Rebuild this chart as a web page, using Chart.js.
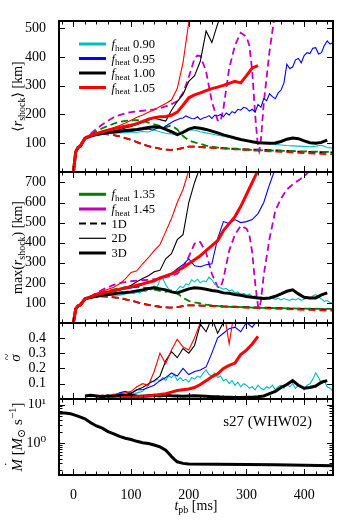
<!DOCTYPE html>
<html>
<head>
<meta charset="utf-8">
<script src="https://cdn.jsdelivr.net/npm/chart.js@4.4.1/dist/chart.umd.min.js"></script>
<style>
  body { margin: 0; background: #fff; }
  #wrap { position: relative; width: 339px; height: 529px; }
  canvas { position: absolute; left: 0; }
</style>
</head>
<body>
<div id="wrap">
  <canvas id="c1" width="339" height="172" style="top:0px"></canvas>
  <canvas id="c2" width="339" height="151" style="top:172px"></canvas>
  <canvas id="c3" width="339" height="76" style="top:323px"></canvas>
  <canvas id="c4" width="339" height="130" style="top:399px"></canvas>
</div>
<script>
// time grid (ms after bounce) shared by most shock-radius curves
const tA = [0, 4, 8, 12, 20, 30, 40, 50, 60, 70, 80, 90, 100, 110, 120, 130, 140, 150, 160, 170, 180, 190, 200, 210,
  220, 230, 240, 250, 260, 270, 280, 290, 300, 310, 320, 330, 340, 350, 360, 370, 380, 390, 400, 410, 420, 430, 440, 450];
// finer grid for the noisiest 2D curves
const tEarly = [0, 4, 8, 12, 20, 30, 40, 50, 60, 70, 80, 90];
const tFine = [100, 105, 110, 115, 120, 125, 130, 135, 140, 145, 150, 155, 160, 165, 170, 175, 180, 185, 190, 195,
  200, 205, 210, 215, 220, 225, 230, 235, 240, 245, 250, 255, 260, 265, 270, 275, 280, 285, 290, 295,
  300, 305, 310, 315, 320, 325, 330, 335, 340, 345, 350, 355, 360, 365, 370, 375, 380, 385, 390, 395,
  400, 405, 410, 415, 420, 425, 430, 435, 440, 445, 450];

// 1D runs (same in mean and max panels)
const black1D = [0, 70, 85, 90, 118, 127, 131, 133, 131, 128, 124, 118, 112, 104, 96, 90, 85, 81, 78, 77, 79, 84, 88, 88,
  87, 86, 85, 84, 83, 82, 81, 80, 79, 78, 78, 77, 76, 75, 74, 73, 72, 71, 70, 70, 69, 69, 68, 68];
const red1D = [0, 70, 85, 90, 118, 127, 131, 133, 131, 128, 124, 118, 112, 104, 96, 90, 85, 81, 78, 77, 79, 84, 88, 88,
  87, 85, 84, 83, 81, 80, 79, 78, 76, 75, 74, 73, 72, 71, 70, 69, 68, 67, 66, 65, 64, 63, 62, 62];
const green1D = [0, 70, 85, 90, 118, 130, 142, 152, 160, 168, 174, 178, 180, 180, 178, 172, 166, 160, 155, 162, 148, 125, 110, 103,
  98, 92, 88, 85, 83, 81, 80, 79, 78, 77, 76, 75, 75, 74, 74, 73, 73, 72, 72, 71, 71, 70, 70, 70];
const tMag = [0, 4, 8, 12, 20, 30, 40, 50, 60, 70, 80, 90, 100, 110, 120, 130, 140, 150, 160, 170, 180, 190, 200, 210, 215,
  220, 230, 240, 250, 255, 260, 270, 280, 290, 300, 305, 310, 315, 320, 322, 325, 330, 340, 350, 360, 370, 380, 390, 400, 410];
const magenta1D = [0, 70, 85, 90, 118, 133, 150, 165, 178, 190, 198, 204, 208, 211, 213, 215, 218, 222, 228, 236, 246, 275, 330, 395, 405,
  403, 350, 245, 180, 176, 220, 360, 440, 484, 470, 440, 350, 200, 85, 72, 110, 240, 420, 560, 620, 665, 690, 710, 730, 760];

// mean shock radius [km]
const meanCyan2D = [0, 70, 85, 90, 117, 124, 128, 131, 133, 134, 136, 137, 139, 138, 141, 139, 146, 140, 135, 132, 128, 140, 147, 146,
  140, 136, 132, 128, 124, 120, 117, 113, 110, 106, 102, 100, 98, 96, 94, 92, 91, 90, 89, 88, 90, 93, 85, 83];
const meanBlue2DEarly = [0, 70, 85, 90, 117, 124, 128, 132, 135, 137, 139, 141];
const meanBlue2DFine = [142, 144, 145, 146, 147, 149, 150, 147, 148, 152, 155, 152, 160, 166, 172, 178, 182, 186, 188, 195,
  190, 186, 185, 192, 182, 188, 190, 196, 186, 198, 195, 200, 192, 205, 198, 210, 205, 218, 215, 225,
  222, 212, 218, 208, 235, 225, 255, 248, 272, 262, 255, 275, 285, 310, 375, 360, 365, 390, 395, 380,
  405, 415, 412, 430, 432, 410, 415, 440, 456, 445, 450];
const meanBlack2D = [0, 70, 85, 90, 117, 124, 129, 134, 138, 143, 148, 153, 158, 165, 172, 180, 188, 182, 177, 215, 245, 270, 315, 335,
  385, 490, 450, 515, 560];
const meanRed2D = [0, 70, 85, 90, 117, 126, 133, 142, 148, 155, 162, 170, 180, 190, 198, 208, 216, 228, 238, 250, 290, 380, 520, 600];
const meanBlack3D = [0, 70, 85, 90, 117, 125, 130, 134, 137, 140, 142, 144, 146, 148, 151, 155, 157, 156, 148, 140, 130, 138, 149, 155,
  152, 148, 142, 136, 129, 124, 118, 113, 109, 105, 102, 101, 100, 101, 106, 114, 118, 116, 108, 102, 100, 103, 111];
const meanRed3D = [0, 70, 85, 90, 118, 127, 133, 140, 145, 150, 155, 159, 163, 168, 176, 184, 189, 192, 193, 197, 208, 232, 258, 268,
  275, 283, 290, 295, 301, 308, 315, 310, 335, 362, 370];

// maximum shock radius [km]
const maxCyan2DEarly = [0, 70, 85, 90, 117, 125, 130, 133, 137, 140, 138, 145];
const maxCyan2DFine = [150, 146, 155, 150, 160, 156, 170, 165, 185, 178, 215, 222, 190, 170, 160, 150, 165, 183, 175, 195,
  190, 215, 205, 218, 200, 210, 205, 228, 215, 192, 185, 175, 168, 172, 160, 165, 150, 155, 142, 148,
  138, 145, 132, 135, 125, 130, 122, 128, 120, 125, 117, 124, 115, 122, 117, 112, 120, 115, 122, 113,
  118, 125, 120, 135, 142, 128, 120, 108, 112, 102, 100];
const maxBlue2D = [0, 70, 85, 90, 118, 125, 135, 142, 150, 158, 165, 170, 175, 180, 190, 200, 210, 220, 235, 245, 270, 290, 320, 285,
  280, 290, 295, 420, 505, 495, 515, 500, 505, 515, 545, 600, 690, 770];
const maxBlack2D = [0, 70, 85, 90, 118, 126, 135, 143, 150, 157, 165, 175, 188, 205, 222, 235, 255, 262, 320, 345, 415, 440, 600, 700, 780];
const maxRed2D = [0, 70, 85, 90, 120, 135, 148, 158, 168, 178, 195, 220, 252, 260, 295, 325, 360, 390, 455, 520, 600, 665, 760];
const maxBlack3D = [0, 70, 85, 90, 120, 128, 133, 138, 142, 146, 150, 152, 155, 160, 165, 172, 175, 170, 165, 155, 150, 160, 170, 175,
  173, 168, 162, 158, 150, 148, 142, 138, 132, 128, 125, 122, 125, 133, 145, 158, 165, 145, 128, 125, 125, 140, 150];
const maxRed3D = [0, 70, 85, 90, 120, 130, 140, 148, 155, 160, 168, 175, 180, 188, 195, 203, 210, 225, 235, 245, 260, 275, 295, 315,
  335, 360, 385, 410, 460, 495, 530, 580, 640, 700, 760];

// anisotropy sigma
const tSig = [20, 30, 40, 50, 60, 70, 80, 90, 100, 110, 120, 130, 140, 150, 160, 170, 180, 190, 200, 210, 220, 230,
  240, 250, 260, 270, 280, 290, 300, 310, 320, 330, 340, 350, 360, 370, 380, 390, 400, 410, 420, 430, 440, 450];
const sigBlack3D = [0.02, 0.025, 0.02, 0.015, 0.02, 0.018, 0.022, 0.02, 0.025, 0.02, 0.018, 0.022, 0.025, 0.02, 0.025, 0.022, 0.02, 0.018,
  0.02, 0.022, 0.02, 0.018, 0.015, 0.015, 0.012, 0.012, 0.01, 0.01, 0.012, 0.012, 0.015, 0.02, 0.035, 0.05, 0.075, 0.095, 0.12, 0.09,
  0.07, 0.075, 0.085, 0.11, 0.12];
const sigRed3D = [null, null, null, null, null, null, 0.01, 0.01, 0.012, 0.015, 0.018, 0.02, 0.025, 0.03, 0.035, 0.045, 0.055, 0.06,
  0.065, 0.075, 0.095, 0.12, 0.145, 0.165, 0.2, 0.22, 0.235, 0.29, 0.32, 0.36, 0.41];
const sigRed2D = [0.015, 0.02, 0.02, 0.025, 0.02, 0.03, 0.035, 0.04, 0.05, 0.08, 0.1, 0.09, 0.18, 0.3, 0.23, 0.32, 0.39, 0.34, 0.32, 0.4,
  0.5, 0.55, 0.6, 0.58, 0.6, 0.36, 0.6];
const sigBlack2D = [null, 0.015, 0.02, 0.02, 0.025, 0.02, 0.03, 0.03, 0.04, 0.06, 0.075, 0.1, 0.12, 0.15, 0.25, 0.31, 0.27, 0.33, 0.3,
  0.35, 0.49, 0.44, 0.53, 0.43, 0.5, 0.56];
const sigBlue2D = [null, null, null, null, 0.015, 0.02, 0.04, 0.05, 0.035, 0.06, 0.06, 0.075, 0.09, 0.12, 0.14, 0.17, 0.15, 0.2, 0.16,
  0.18, 0.19, 0.21, 0.3, 0.4, 0.43, 0.46, 0.47, 0.44, 0.5, 0.47, 0.52];
const sigCyan2DFine = [0.03, 0.035, 0.04, 0.045, 0.05, 0.07, 0.09, 0.12, 0.11, 0.13, 0.12, 0.14, 0.12, 0.15, 0.14, 0.16, 0.12, 0.14, 0.12, 0.13,
  0.11, 0.14, 0.13, 0.15, 0.14, 0.17, 0.19, 0.16, 0.15, 0.17, 0.14, 0.15, 0.12, 0.13, 0.1, 0.12, 0.09, 0.11, 0.08, 0.1,
  0.09, 0.07, 0.08, 0.06, 0.09, 0.07, 0.06, 0.08, 0.07, 0.09, 0.06, 0.08, 0.09, 0.07, 0.1, 0.08, 0.1, 0.07, 0.09, 0.08,
  0.06, 0.09, 0.1, 0.13, 0.17, 0.14, 0.1, 0.12, 0.08, 0.07, 0.05];

// mass accretion rate [Msun/s]
const tMdot = [-25, -15, -5, 0, 10, 20, 30, 40, 50, 60, 70, 80, 90, 100, 110, 120, 130, 140, 150, 160, 165, 170, 175, 180, 190, 200,
  250, 300, 350, 400, 450];
const mdot = [6.1, 6.05, 5.8, 5.5, 4.9, 4.3, 3.4, 2.8, 2.45, 2.0, 1.75, 1.5, 1.35, 1.25, 1.12, 1.03, 0.98, 0.9, 0.8, 0.66, 0.55, 0.45,
  0.38, 0.33, 0.3, 0.29, 0.285, 0.28, 0.275, 0.268, 0.262];

// tick values
const xTicks = [0, 100, 200, 300, 400];
const meanTicks = [100, 200, 300, 400, 500];
const maxTicks = [100, 200, 300, 400, 500, 600, 700];
const sigTicks = [0.1, 0.2, 0.3, 0.4];
const mdotTicks = [1, 10];
const mdotTickText = ['10\u2070', '10\u00b9'];
const mdotMinor = [0.2, 0.3, 0.4, 0.5, 0.6, 0.7, 0.8, 0.9, 2, 3, 4, 5, 6, 7, 8, 9];

const CYAN = '#00bfbf', BLUE = '#0000ff', BLACK = '#000000', RED = '#ff0000', GREEN = '#008000', MAGENTA = '#bf00bf';
const FONT = '"Liberation Serif", "DejaVu Serif", serif';

function pts(t, v) {
  const out = [];
  for (let i = 0; i < v.length; i++) {
    if (v[i] !== null) out.push({ x: t[i], y: v[i] });
  }
  return out;
}

function line(data, color, kind) {
  return {
    data: data,
    borderColor: color,
    borderWidth: kind === '3D' ? 3 : kind === '1D' ? 1.8 : 1.1,
    borderDash: kind === '1D' ? [7, 4] : [],
    pointRadius: 0,
    tension: 0,
    fill: false,
    clip: 0
  };
}

// text with sub/superscripts drawn on the canvas
function richText(ctx, parts, x, y, size, align, rotate) {
  ctx.save();
  ctx.translate(x, y);
  if (rotate) ctx.rotate(-Math.PI / 2);
  const fontFor = p => (p.it ? 'italic ' : '') + ((p.sub || p.sup) ? Math.round(size * 0.7) : size) + 'px ' + FONT;
  let w = 0;
  parts.forEach(p => { ctx.font = fontFor(p); w += ctx.measureText(p.t).width; });
  let cx = align === 'left' ? 0 : align === 'right' ? -w : -w / 2;
  ctx.fillStyle = '#000';
  ctx.textBaseline = 'alphabetic';
  const base = size * 0.33;
  parts.forEach(p => {
    ctx.font = fontFor(p);
    const tw = ctx.measureText(p.t).width;
    const dy = p.sub ? size * 0.22 : p.sup ? -size * 0.38 : 0;
    ctx.fillText(p.t, cx, base + dy);
    if (p.accent) {
      // accent (tilde / dot) drawn above the glyph
      ctx.font = Math.round(size * 0.8) + 'px ' + FONT;
      ctx.textAlign = 'center';
      ctx.fillText(p.accent, cx + tw / 2 + 1, base - size * 0.62);
      ctx.textAlign = 'left';
    }
    cx += tw;
  });
  ctx.restore();
}

const fheat = v => [{ t: 'f', it: true }, { t: 'heat', sub: true }, { t: ' ' + v }];

function framePlugin(cfg) {
  return {
    id: 'frame',
    afterDraw(chart) {
      const { ctx, chartArea: a, scales } = chart;
      const x = scales.x, y = scales.y;
      ctx.save();
      ctx.strokeStyle = '#000';
      ctx.lineWidth = 1;
      ctx.setLineDash([]);
      ctx.beginPath();
      for (let t = -20; t <= 440; t += 20) {
        const px = Math.round(x.getPixelForValue(t)) + 0.5;
        const L = t % 100 === 0 ? 6 : 3.5;
        ctx.moveTo(px, a.top); ctx.lineTo(px, a.top + L);
        ctx.moveTo(px, a.bottom); ctx.lineTo(px, a.bottom - L);
      }
      cfg.yMajor.forEach(v => {
        const py = Math.round(y.getPixelForValue(v)) + 0.5;
        ctx.moveTo(a.left, py); ctx.lineTo(a.left + 6, py);
        ctx.moveTo(a.right, py); ctx.lineTo(a.right - 6, py);
      });
      (cfg.yMinor || []).forEach(v => {
        const py = Math.round(y.getPixelForValue(v)) + 0.5;
        ctx.moveTo(a.left, py); ctx.lineTo(a.left + 3.5, py);
        ctx.moveTo(a.right, py); ctx.lineTo(a.right - 3.5, py);
      });
      ctx.stroke();
      ctx.lineWidth = 2;
      ctx.strokeRect(a.left, a.top, a.right - a.left, a.bottom - a.top);

      (cfg.legend || []).forEach(row => {
        ctx.beginPath();
        ctx.strokeStyle = row.color;
        ctx.lineWidth = row.width;
        ctx.setLineDash(row.dash || []);
        ctx.moveTo(79, row.y); ctx.lineTo(106, row.y);
        ctx.stroke();
        richText(ctx, row.parts, 111.5, row.y, 12.5, 'left', false);
      });
      ctx.setLineDash([]);
      (cfg.texts || []).forEach(tx => richText(ctx, tx.parts, tx.x, tx.y, tx.size, tx.align || 'center', tx.rotate));
      ctx.restore();
    }
  };
}

function options(yScale, padTop, showX) {
  return {
    responsive: false,
    animation: false,
    layout: { padding: { left: 0, right: 6, top: padTop, bottom: 0 } },
    plugins: { legend: { display: false }, tooltip: { enabled: false } },
    scales: {
      x: {
        type: 'linear', min: -25, max: 450, display: showX,
        grid: { display: false }, border: { display: false },
        afterBuildTicks: s => { s.ticks = xTicks.map(v => ({ value: v })); },
        afterFit: s => {
          s.height = showX ? 54 : 0;
          s.paddingLeft = 0; s.paddingRight = 0;
        },
        ticks: { color: '#000', font: { family: FONT, size: 14 }, padding: 4, maxRotation: 0, autoSkip: false }
      },
      y: Object.assign({
        grid: { display: false }, border: { display: false },
        afterFit: s => { s.width = 59; s.paddingTop = 0; s.paddingBottom = 0; }
      }, yScale)
    }
  };
}

const tickFont = { family: FONT, size: 14 };

// panel 1: mean shock radius
new Chart(document.getElementById('c1'), {
  type: 'line',
  data: { datasets: [
    line(pts(tA, meanRed3D), RED, '3D'),
    line(pts(tA, meanBlack3D), BLACK, '3D'),
    line(pts(tA, meanRed2D), RED, '2D'),
    line(pts(tA, meanBlack2D), BLACK, '2D'),
    line(pts(tEarly.concat(tFine), meanBlue2DEarly.concat(meanBlue2DFine)), BLUE, '2D'),
    line(pts(tA, meanCyan2D), CYAN, '2D'),
    line(pts(tMag, magenta1D), MAGENTA, '1D'),
    line(pts(tA, green1D), GREEN, '1D'),
    line(pts(tA, red1D), RED, '1D'),
    line(pts(tA, black1D), BLACK, '1D')
  ] },
  options: options({
    type: 'linear', min: 0, max: 525,
    afterBuildTicks: s => { s.ticks = meanTicks.map(v => ({ value: v })); },
    ticks: { color: '#000', font: tickFont, padding: 5, autoSkip: false }
  }, 21, false),
  plugins: [framePlugin({
    yMajor: meanTicks,
    legend: [
      { y: 44, color: CYAN, width: 3, parts: fheat('0.90') },
      { y: 58.5, color: BLUE, width: 3, parts: fheat('0.95') },
      { y: 73, color: BLACK, width: 3, parts: fheat('1.00') },
      { y: 87.5, color: RED, width: 3, parts: fheat('1.05') }
    ],
    texts: [{ x: 17, y: 96.5, size: 14, rotate: true,
      parts: [{ t: '\u27e8' }, { t: 'r', it: true }, { t: 'shock', sub: true }, { t: '\u27e9 [km]' }] }]
  })]
});

// panel 2: maximum shock radius
new Chart(document.getElementById('c2'), {
  type: 'line',
  data: { datasets: [
    line(pts(tA, maxRed3D), RED, '3D'),
    line(pts(tA, maxBlack3D), BLACK, '3D'),
    line(pts(tA, maxRed2D), RED, '2D'),
    line(pts(tA, maxBlack2D), BLACK, '2D'),
    line(pts(tA, maxBlue2D), BLUE, '2D'),
    line(pts(tEarly.concat(tFine), maxCyan2DEarly.concat(maxCyan2DFine)), CYAN, '2D'),
    line(pts(tMag, magenta1D), MAGENTA, '1D'),
    line(pts(tA, green1D), GREEN, '1D'),
    line(pts(tA, red1D), RED, '1D'),
    line(pts(tA, black1D), BLACK, '1D')
  ] },
  options: options({
    type: 'linear', min: 0, max: 752,
    afterBuildTicks: s => { s.ticks = maxTicks.map(v => ({ value: v })); },
    ticks: { color: '#000', font: tickFont, padding: 5, autoSkip: false }
  }, 0, false),
  plugins: [framePlugin({
    yMajor: maxTicks,
    legend: [
      { y: 22.3, color: GREEN, width: 3, parts: fheat('1.35') },
      { y: 37, color: MAGENTA, width: 3, parts: fheat('1.45') },
      { y: 51.5, color: BLACK, width: 2, dash: [7, 4], parts: [{ t: '1D' }] },
      { y: 66.3, color: BLACK, width: 1.2, parts: [{ t: '2D' }] },
      { y: 81, color: BLACK, width: 3, parts: [{ t: '3D' }] }
    ],
    texts: [{ x: 17, y: 75.5, size: 14, rotate: true,
      parts: [{ t: 'max(' }, { t: 'r', it: true }, { t: 'shock', sub: true }, { t: ') [km]' }] }]
  })]
});

// panel 3: anisotropy
new Chart(document.getElementById('c3'), {
  type: 'line',
  data: { datasets: [
    line(pts(tSig, sigRed3D), RED, '3D'),
    line(pts(tSig, sigBlack3D), BLACK, '3D'),
    line(pts(tSig, sigRed2D), RED, '2D'),
    line(pts(tSig, sigBlack2D), BLACK, '2D'),
    line(pts(tSig, sigBlue2D), BLUE, '2D'),
    line(pts(tFine, sigCyan2DFine), CYAN, '2D')
  ] },
  options: options({
    type: 'linear', min: 0, max: 0.497,
    afterBuildTicks: s => { s.ticks = sigTicks.map(v => ({ value: v })); },
    ticks: { color: '#000', font: tickFont, padding: 5, autoSkip: false }
  }, 0, false),
  plugins: [framePlugin({
    yMajor: sigTicks,
    texts: [{ x: 15, y: 35, size: 15, rotate: true, parts: [{ t: '\u03c3', it: true, accent: '~' }] }]
  })]
});

// panel 4: accretion rate
new Chart(document.getElementById('c4'), {
  type: 'line',
  data: { datasets: [ line(pts(tMdot, mdot), BLACK, '3D') ] },
  options: options({
    type: 'logarithmic', min: 0.15, max: 14,
    afterBuildTicks: s => { s.ticks = mdotTicks.map(v => ({ value: v })); },
    ticks: { color: '#000', font: tickFont, padding: 5, autoSkip: false,
      callback: v => mdotTickText[mdotTicks.indexOf(v)] }
  }, 0, true),
  plugins: [framePlugin({
    yMajor: mdotTicks,
    yMinor: mdotMinor,
    texts: [
      { x: 312, y: 22, size: 15, align: 'right', parts: [{ t: 's27 (WHW02)' }] },
      { x: 17, y: 38, size: 15, rotate: true,
        parts: [{ t: 'M', it: true, accent: '\u02d9' }, { t: ' [' }, { t: 'M', it: true }, { t: '\u2299', sub: true }, { t: ' s' }, { t: '\u22121', sup: true }, { t: ']' }] },
      { x: 196, y: 106, size: 14,
        parts: [{ t: 't', it: true }, { t: 'pb', sub: true }, { t: ' [ms]' }] }
    ]
  })]
});
</script>
</body>
</html>
